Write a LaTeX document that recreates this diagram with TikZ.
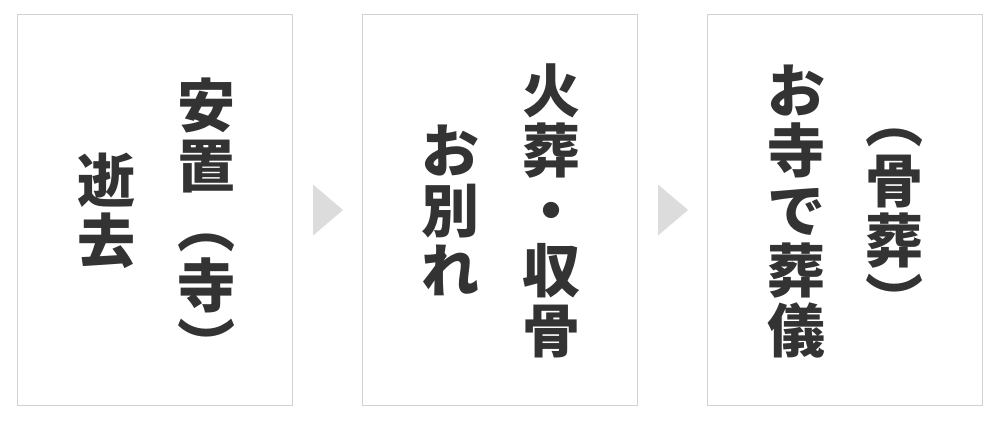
\documentclass[tikz,border=0pt]{standalone}
\usepackage{fontspec}
\newfontfamily\jpfont{Noto Sans CJK JP}
\usetikzlibrary{calc}
\definecolor{ink}{HTML}{333333}
\definecolor{cardline}{HTML}{D2D2D2}
\definecolor{arrowgray}{HTML}{DCDCDC}
\tikzset{
  card/.style={draw=cardline, line width=1pt, fill=white, minimum width=275pt, minimum height=391pt, inner sep=0pt},
  jpchar/.style={font=\jpfont\bfseries\fontsize{58}{60}\selectfont, text=ink, inner sep=0pt, text height=51pt, text depth=7pt, anchor=center},
  plain/.style={},
  vp/.style={rotate=-90},
  arrowtri/.style={fill=arrowgray, draw=none}
}
\begin{document}
\begin{tikzpicture}[x=1pt,y=-1pt]
\useasboundingbox (0,0) rectangle (1000,420);
\fill[white] (0,0) rectangle (1000,420);
% cards
\node[card] (b1) at (155,210) {};
\node[card] (b2) at (500,210) {};
\node[card] (b3) at (845,210) {};
% arrows between cards
\path[arrowtri] ($(b1.east)+(20,-25.5)$) -- ($(b1.east)+(50,0)$) -- ($(b1.east)+(20,25.5)$) -- cycle;
\path[arrowtri] ($(b2.east)+(20,-25.5)$) -- ($(b2.east)+(50,0)$) -- ($(b2.east)+(20,25.5)$) -- cycle;
% card 1
\foreach \ch/\yy/\opt [count=\i] in {安/105/plain,置/165/plain,（/225/vp,寺/285/plain,）/345/vp}
  \node[jpchar,\opt] (c1r\i) at (206,\yy) {\ch};
\foreach \ch/\yy/\opt [count=\i] in {逝/180/plain,去/240/plain}
  \node[jpchar,\opt] (c1l\i) at (106,\yy) {\ch};
% card 2
\foreach \ch/\yy/\opt [count=\i] in {火/90/plain,葬/150/plain,・/210/plain,収/270/plain,骨/330/plain}
  \node[jpchar,\opt] (c2r\i) at (551,\yy) {\ch};
\foreach \ch/\yy/\opt [count=\i] in {お/150/plain,別/210/plain,れ/270/plain}
  \node[jpchar,\opt] (c2l\i) at (450,\yy) {\ch};
% card 3
\foreach \ch/\yy/\opt [count=\i] in {（/120/vp,骨/180/plain,葬/240/plain,）/300/vp}
  \node[jpchar,\opt] (c3r\i) at (894,\yy) {\ch};
\foreach \ch/\yy/\opt [count=\i] in {お/90/plain,寺/150/plain,で/210/plain,葬/270/plain,儀/330/plain}
  \node[jpchar,\opt] (c3l\i) at (796,\yy) {\ch};
\end{tikzpicture}
\end{document}
